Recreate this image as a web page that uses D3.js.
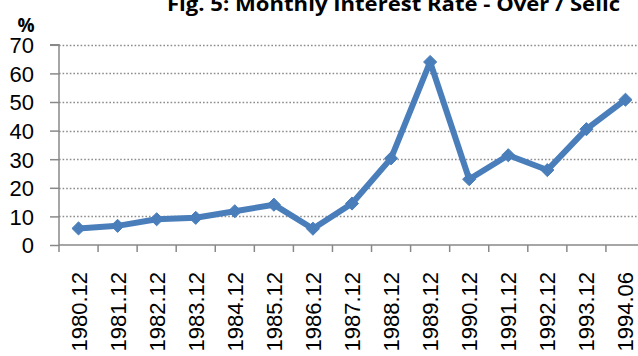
<!DOCTYPE html>
<html>
<head>
<meta charset="utf-8">
<script src="https://cdn.jsdelivr.net/npm/d3@7"></script>
<style>
  html, body { margin: 0; padding: 0; background: #fff; overflow: hidden; }
  svg { display: block; }
</style>
</head>
<body>
<svg id="chart" width="638" height="356"></svg>
<script>
// Monthly interest rate (Over / Selic), % per month
const periods = ["1980.12","1981.12","1982.12","1983.12","1984.12","1985.12","1986.12",
                 "1987.12","1988.12","1989.12","1990.12","1991.12","1992.12","1993.12","1994.06"];
const rates = [5.8, 6.7, 9.0, 9.5, 11.8, 14.1, 5.7, 14.5, 30.3, 64.0, 23.0, 31.4, 26.2, 40.5, 50.8];
const yTicks = [0, 10, 20, 30, 40, 50, 60, 70];
const titleText = "Fig. 5: Monthly Interest Rate - Over / Selic";
const unitText = "%";

const svg = d3.select("#chart");
const W = 638, H = 356;
const plotLeft = 59, plotRight = 645, plotTop = 44.8, plotBottom = 245;

const x = d3.scaleBand().domain(periods).range([plotLeft, plotRight]).paddingInner(0).paddingOuter(0);
const y = d3.scaleLinear().domain([0, 70]).range([plotBottom, plotTop]);

const lineColor = "#4a7ebb";
const axisColor = "#898989";

// title (sits partly above the top edge of the canvas)
svg.append("text")
  .attr("x", 167).attr("y", 11)
  .attr("font-family", "Open Sans, sans-serif")
  .attr("font-weight", "bold")
  .attr("font-size", 19)
  .attr("textLength", 453)
  .attr("lengthAdjust", "spacingAndGlyphs")
  .attr("fill", "#000")
  .text(titleText);

// unit label
svg.append("text")
  .attr("x", 26).attr("y", 32)
  .attr("text-anchor", "middle")
  .attr("font-family", "Open Sans, sans-serif")
  .attr("font-weight", "bold")
  .attr("font-size", 19)
  .attr("fill", "#000")
  .text(unitText);

// dotted gridlines
svg.append("g")
  .selectAll("line")
  .data(yTicks.filter(d => d > 0))
  .join("line")
  .attr("x1", plotLeft).attr("x2", W)
  .attr("y1", d => Math.round(y(d)) + 0.5).attr("y2", d => Math.round(y(d)) + 0.5)
  .attr("stroke", "#8c8c8c")
  .attr("stroke-width", 1.3)
  .attr("stroke-dasharray", "1.6,2");

// y axis
const yAxis = d3.axisLeft(y).tickValues(yTicks).tickSize(9).tickPadding(16).tickFormat(d3.format("d"));
const gy = svg.append("g").attr("transform", `translate(${plotLeft},0)`).call(yAxis);
gy.select(".domain").attr("stroke", axisColor).attr("stroke-width", 1.5).attr("d", `M-9,${plotTop}H0V${plotBottom}`);
gy.selectAll(".tick line").attr("stroke", axisColor).attr("stroke-width", 1.5);
gy.selectAll(".tick text")
  .attr("font-family", "Liberation Sans, Arial, sans-serif")
  .attr("font-size", 22)
  .attr("fill", "#000")
  .attr("dy", "0.36em");

// x axis with ticks at category boundaries
const gx = svg.append("g").attr("transform", `translate(0,${plotBottom})`);
gx.append("line")
  .attr("x1", plotLeft).attr("x2", W)
  .attr("y1", 0).attr("y2", 0)
  .attr("stroke", axisColor).attr("stroke-width", 1.5);
gx.selectAll("line.tick")
  .data(periods)
  .join("line")
  .attr("class", "tick")
  .attr("x1", d => x(d)).attr("x2", d => x(d))
  .attr("y1", 0).attr("y2", 7)
  .attr("stroke", axisColor).attr("stroke-width", 1.5);
gx.selectAll("text")
  .data(periods)
  .join("text")
  .attr("transform", d => `translate(${x(d) + x.bandwidth() / 2 + 8},27) rotate(-90)`)
  .attr("text-anchor", "end")
  .attr("font-family", "Liberation Sans, Arial, sans-serif")
  .attr("font-size", 22)
  .attr("fill", "#000")
  .text(d => d);

// series line
const cx = d => x(d) + x.bandwidth() / 2;
const line = d3.line().x((d, i) => cx(periods[i])).y(d => y(d));
svg.append("path")
  .datum(rates)
  .attr("d", line)
  .attr("fill", "none")
  .attr("stroke", lineColor)
  .attr("stroke-width", 6)
  .attr("stroke-linejoin", "round");

// diamond markers
svg.append("g")
  .selectAll("path")
  .data(rates)
  .join("path")
  .attr("transform", (d, i) => `translate(${cx(periods[i])},${y(d)})`)
  .attr("d", d3.symbol().type(d3.symbolDiamond2).size(110))
  .attr("fill", lineColor)
  .attr("stroke", lineColor)
  .attr("stroke-width", 1);
</script>
</body>
</html>
